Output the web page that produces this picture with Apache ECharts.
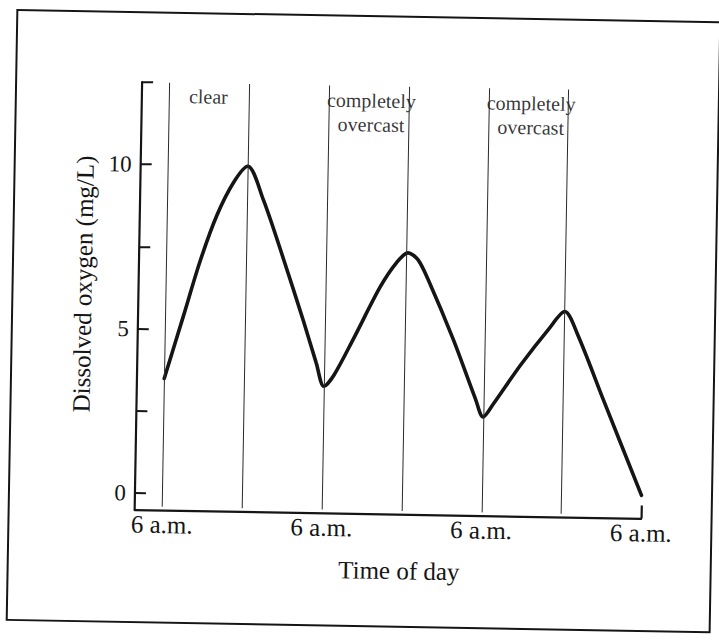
<!DOCTYPE html>
<html>
<head>
<meta charset="utf-8">
<script src="https://cdn.jsdelivr.net/npm/echarts@6/dist/echarts.min.js"></script>
<style>
  html, body { margin: 0; padding: 0; background: #fff; overflow: hidden; }
  /* the scanned figure sits about one degree clockwise on the page */
  #chart { width: 719px; height: 640px; transform: rotate(1deg); transform-origin: 360px 320px; }
</style>
</head>
<body>
<div id="chart"></div>
<script>
// hours after the first 6 a.m., and dissolved oxygen (mg/L)
var hours = [0, 2.7, 5.1, 7.5, 9.9, 12, 14.4, 17.6, 20.8, 22.8, 24, 25.5, 28.3, 32.2, 34.6, 36.3, 37.8, 39.5, 43.3, 46.8, 48, 49.5, 53.5, 57.6, 60, 62, 66, 72];
var oxygen = [3.5, 5.4, 7.1, 8.5, 9.5, 10, 9.0, 7.2, 5.3, 4.05, 3.35, 3.7, 4.8, 6.4, 7.15, 7.45, 7.25, 6.6, 4.85, 3.05, 2.5, 2.9, 4.1, 5.2, 5.75, 5.05, 3.1, 0.2];

// sunrise / sunset dividers (hours)
var dividerHours = [0, 12, 24, 36, 48, 60];

// sky notes above the daylight periods
var noteHours = [5.9, 30.4, 54.4];
var noteLevels = [12.1, 11.7, 11.7];
var noteTexts = ['clear', 'completely\novercast', 'completely\novercast'];

var yTicks = [0, 2.5, 5, 7.5, 10, 12.5];
var yLabels = [0, 5, 10];
var xLabelHours = [0, 24, 48, 72];
var xLabelText = '6 a.m.';

var serif = '"Liberation Serif", "DejaVu Serif", serif';
var ink = '#151515';

var curve = hours.map(function (h, i) { return [h, oxygen[i]]; });
var notes = noteHours.map(function (h, i) { return { value: [h, noteLevels[i]], name: noteTexts[i] }; });
var dividers = dividerHours.map(function (h) {
    return [{ coord: [h, -0.4] }, { coord: [h, 12.5] }];
});

var myChart = echarts.init(document.getElementById('chart'), null, { renderer: 'svg' });
myChart.setOption({
    animation: false,
    backgroundColor: 'transparent',
    graphic: [{
        // frame round the figure
        type: 'rect',
        shape: { x: 12, y: 16, width: 703, height: 610 },
        style: { fill: 'none', stroke: ink, lineWidth: 2 },
        silent: true
    }],
    grid: { left: 138, right: 74.5, top: 86, bottom: 126.5, outerBoundsMode: 'none' },
    xAxis: {
        type: 'value',
        min: -4.1,
        max: 72,
        name: 'Time of day',
        nameLocation: 'middle',
        nameGap: 44,
        nameTextStyle: { fontFamily: serif, fontSize: 25, color: ink, padding: [0, 0, 0, 24] },
        axisLine: { onZero: false, lineStyle: { color: ink, width: 2.2 } },
        axisTick: { show: true, inside: true, length: 13, customValues: [72], lineStyle: { color: ink, width: 2.2 } },
        axisLabel: {
            customValues: xLabelHours,
            formatter: function () { return xLabelText; },
            fontFamily: serif, fontSize: 25, color: ink, margin: 2
        },
        splitLine: { show: false }
    },
    yAxis: {
        type: 'value',
        min: -0.5,
        max: 12.5,
        name: 'Dissolved oxygen (mg/L)',
        nameLocation: 'middle',
        nameRotate: 90,
        nameGap: 42,
        nameTextStyle: { fontFamily: serif, fontSize: 25, color: ink, padding: [0, 0, 0, 22] },
        axisLine: { onZero: false, lineStyle: { color: ink, width: 2.2 } },
        axisTick: { show: true, inside: true, length: 11, customValues: yTicks, lineStyle: { color: ink, width: 2 } },
        axisLabel: { customValues: yLabels, fontFamily: serif, fontSize: 23, color: ink, margin: 9 },
        splitLine: { show: false }
    },
    series: [{
        type: 'line',
        data: curve,
        smooth: 0.3,
        symbol: 'none',
        lineStyle: { color: ink, width: 3.6, cap: 'round' },
        markLine: {
            silent: true,
            symbol: 'none',
            label: { show: false },
            lineStyle: { color: '#2a2a2a', width: 1, type: 'solid' },
            data: dividers
        },
        z: 3
    }, {
        type: 'scatter',
        data: notes,
        symbolSize: 0,
        silent: true,
        label: {
            show: true,
            position: 'inside',
            formatter: '{b}',
            fontFamily: serif,
            fontSize: 20,
            lineHeight: 24,
            color: '#000'
        }
    }]
});
</script>
</body>
</html>
